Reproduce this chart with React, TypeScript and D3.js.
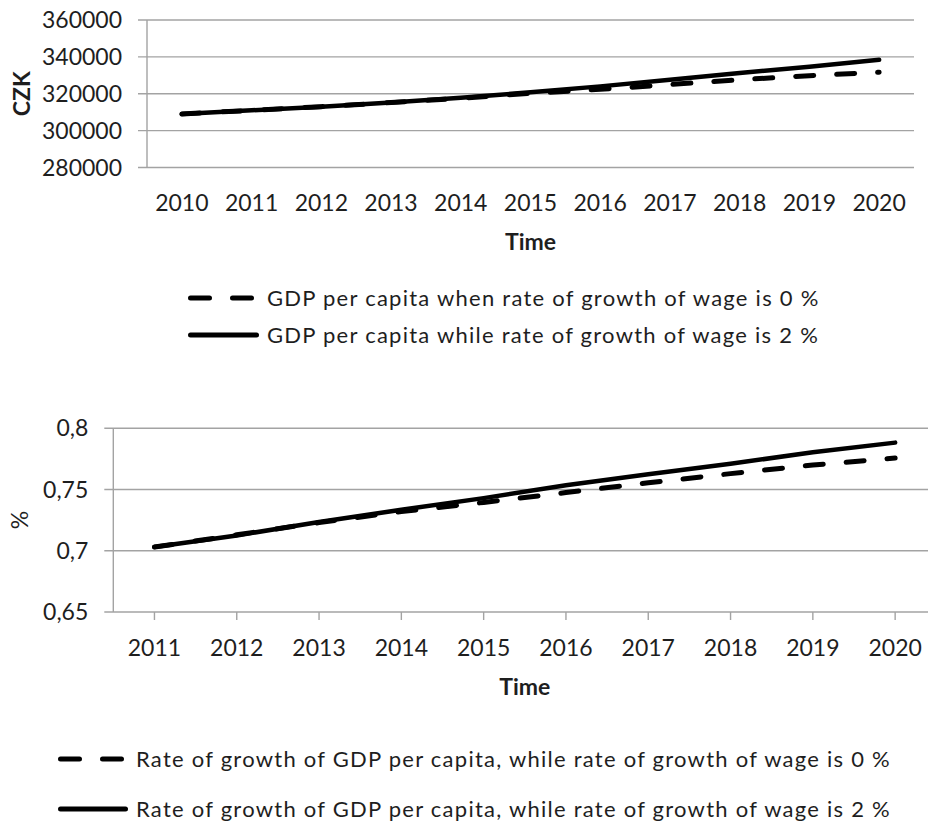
import React, { useEffect, useRef } from 'react';
import * as d3 from 'd3';

// Top chart: GDP per capita (CZK)
const yearsTop = ['2010', '2011', '2012', '2013', '2014', '2015', '2016', '2017', '2018', '2019', '2020'];
const gdpWage0 = [309000, 311000, 313000, 315200, 317600, 320200, 322400, 325000, 327600, 329800, 331700];
const gdpWage2 = [309000, 311000, 313000, 315200, 317800, 320800, 324000, 327600, 331200, 334700, 338400];
const gdpTicks = [280000, 300000, 320000, 340000, 360000];

// Bottom chart: rate of growth of GDP per capita (%)
const yearsBottom = ['2011', '2012', '2013', '2014', '2015', '2016', '2017', '2018', '2019', '2020'];
const rateWage0 = [0.703, 0.713, 0.723, 0.732, 0.7395, 0.7475, 0.7555, 0.763, 0.770, 0.7757];
const rateWage2 = [0.703, 0.7125, 0.7235, 0.7335, 0.743, 0.7535, 0.7625, 0.771, 0.7805, 0.7883];
const rateTicks = [0.65, 0.7, 0.75, 0.8];

const legendTop = [
  'GDP per capita when rate of growth of wage is 0 %',
  'GDP per capita while rate of growth of wage is 2 %',
];
const legendBottom = [
  'Rate of growth of GDP per capita, while rate of growth of wage is 0 %',
  'Rate of growth of GDP per capita, while rate of growth of wage is 2 %',
];

const FONT = 'Lato, "Noto Sans", sans-serif';
const TEXT = '#1e1e1e';
const GRID = '#a3a3a3';

const csFormat = d3.formatLocale({ decimal: ',', thousands: ' ', grouping: [3], currency: ['', ''] }).format('');

interface ChartOpts {
  years: string[];
  dashed: number[];
  solid: number[];
  ticks: number[];
  left: number;
  right: number;
  top: number;
  bottom: number;
  fmt: (v: number) => string;
  yLabel: string;
  yLabelBold: boolean;
  yLabelX: number;
  xTicks: boolean;
  xLabelY: number;
  titleY: number;
  legend: string[];
  legendX: number;
  legendW: number;
  legendY: number[];
}

function drawChart(svg: d3.Selection<SVGSVGElement, unknown, null, undefined>, o: ChartOpts) {
  const g = svg.append('g');

  const x = d3.scaleBand().domain(o.years).range([o.left, o.right]).padding(0);
  const y = d3.scaleLinear().domain([o.ticks[0], o.ticks[o.ticks.length - 1]]).range([o.bottom, o.top]);
  const cx = (d: string) => (x(d) ?? 0) + x.bandwidth() / 2;

  // gridlines
  g.selectAll('line.grid')
    .data(o.ticks)
    .enter()
    .append('line')
    .attr('x1', o.left - 9)
    .attr('x2', o.right)
    .attr('y1', d => y(d))
    .attr('y2', d => y(d))
    .attr('stroke', GRID)
    .attr('stroke-width', 1.4);

  // y axis line
  g.append('line')
    .attr('x1', o.left)
    .attr('x2', o.left)
    .attr('y1', o.top)
    .attr('y2', o.bottom)
    .attr('stroke', GRID)
    .attr('stroke-width', 1.4);

  // y tick labels
  g.selectAll('text.ytick')
    .data(o.ticks)
    .enter()
    .append('text')
    .attr('x', o.left - 25)
    .attr('y', d => y(d) + 8)
    .attr('text-anchor', 'end')
    .attr('font-family', FONT)
    .attr('font-size', 23)
    .attr('fill', TEXT)
    .text(d => o.fmt(d));

  // x ticks
  if (o.xTicks) {
    g.selectAll('line.xtick')
      .data(o.years)
      .enter()
      .append('line')
      .attr('x1', d => cx(d))
      .attr('x2', d => cx(d))
      .attr('y1', o.bottom)
      .attr('y2', o.bottom + 8)
      .attr('stroke', GRID)
      .attr('stroke-width', 1.4);
  }

  // x labels
  g.selectAll('text.xtick')
    .data(o.years)
    .enter()
    .append('text')
    .attr('x', d => cx(d))
    .attr('y', o.xLabelY)
    .attr('text-anchor', 'middle')
    .attr('font-family', FONT)
    .attr('font-size', 23)
    .attr('fill', TEXT)
    .text(d => d);

  // axis titles
  g.append('text')
    .attr('x', (o.left + o.right) / 2)
    .attr('y', o.titleY)
    .attr('text-anchor', 'middle')
    .attr('font-family', FONT)
    .attr('font-size', 23)
    .attr('font-weight', 'bold')
    .attr('fill', TEXT)
    .text('Time');

  g.append('text')
    .attr('transform', `translate(${o.yLabelX},${(o.top + o.bottom) / 2}) rotate(-90)`)
    .attr('text-anchor', 'middle')
    .attr('font-family', FONT)
    .attr('font-size', 23)
    .attr('font-weight', o.yLabelBold ? 'bold' : 'normal')
    .attr('fill', TEXT)
    .text(o.yLabel);

  // lines
  const line = d3
    .line<number>()
    .x((_, i) => cx(o.years[i]))
    .y(d => y(d));

  g.append('path')
    .attr('d', line(o.dashed) ?? '')
    .attr('fill', 'none')
    .attr('stroke', '#000')
    .attr('stroke-width', 5)
    .attr('stroke-linecap', 'round')
    .attr('stroke-dasharray', '18 23');

  g.append('path')
    .attr('d', line(o.solid) ?? '')
    .attr('fill', 'none')
    .attr('stroke', '#000')
    .attr('stroke-width', 4.5)
    .attr('stroke-linecap', 'round');

  // legend
  o.legend.forEach((label, i) => {
    const ly = o.legendY[i];
    g.append('line')
      .attr('x1', o.legendX + 2.5)
      .attr('x2', o.legendX + o.legendW - 2.5)
      .attr('y1', ly)
      .attr('y2', ly)
      .attr('stroke', '#000')
      .attr('stroke-width', 5)
      .attr('stroke-linecap', 'round')
      .attr('stroke-dasharray', i === 0 ? '19 23' : null);
    g.append('text')
      .attr('x', o.legendX + o.legendW + 8)
      .attr('y', ly + 8)
      .attr('font-family', FONT)
      .attr('font-size', 22)
      .attr('letter-spacing', 1.25)
      .attr('fill', TEXT)
      .text(label);
  });
}

const App: React.FC = () => {
  const svgRef = useRef<SVGSVGElement>(null);

  useEffect(() => {
    if (!svgRef.current) return;
    const svg = d3.select(svgRef.current);
    svg.selectAll('*').remove();

    drawChart(svg, {
      years: yearsTop,
      dashed: gdpWage0,
      solid: gdpWage2,
      ticks: gdpTicks,
      left: 147,
      right: 914,
      top: 20,
      bottom: 167.5,
      fmt: d3.format('d'),
      yLabel: 'CZK',
      yLabelBold: true,
      yLabelX: 30,
      xTicks: false,
      xLabelY: 211,
      titleY: 250,
      legend: legendTop,
      legendX: 188,
      legendW: 71,
      legendY: [298, 335],
    });

    drawChart(svg, {
      years: yearsBottom,
      dashed: rateWage0,
      solid: rateWage2,
      ticks: rateTicks,
      left: 113.3,
      right: 936.3,
      top: 428.3,
      bottom: 612,
      fmt: csFormat,
      yLabel: '%',
      yLabelBold: false,
      yLabelX: 28,
      xTicks: true,
      xLabelY: 656,
      titleY: 695,
      legend: legendBottom,
      legendX: 58,
      legendW: 70,
      legendY: [759, 809],
    });
  }, []);

  return (
    <svg
      ref={svgRef}
      width={928}
      height={823}
      style={{ position: 'absolute', left: 0, top: 0, background: '#fff' }}
    />
  );
};

export default App;
